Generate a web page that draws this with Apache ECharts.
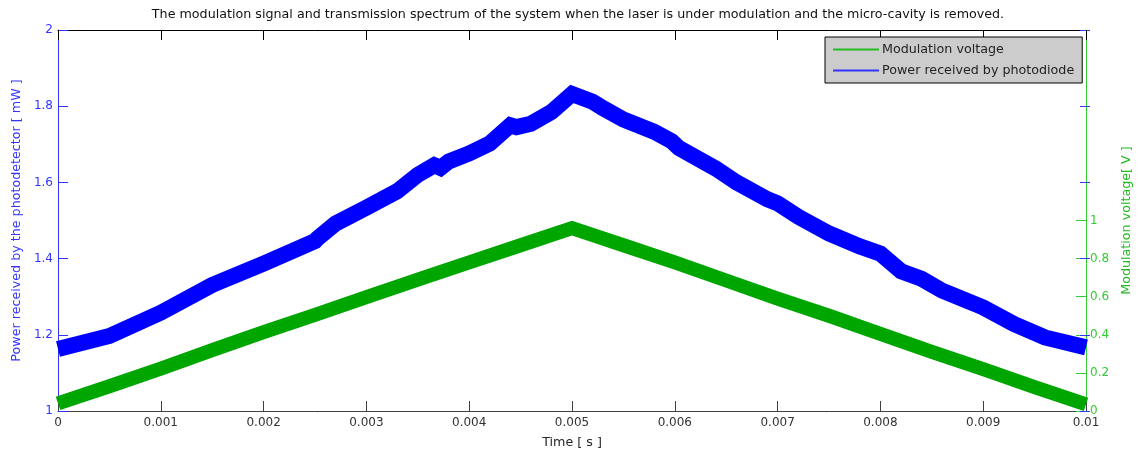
<!DOCTYPE html>
<html>
<head>
<meta charset="utf-8">
<script src="https://cdn.jsdelivr.net/npm/echarts@6/dist/echarts.min.js"></script>
<style>html,body{margin:0;padding:0;background:#fff;}#c{width:1141px;height:456px;}</style>
</head>
<body>
<div id="c"></div>
<script>
var titleText = 'The modulation signal and transmission spectrum of the system when the laser is under modulation and the micro-cavity is removed.';
var xTickLabels = ['0','0.001','0.002','0.003','0.004','0.005','0.006','0.007','0.008','0.009','0.01'];
var leftTickLabels = ['1','1.2','1.4','1.6','1.8','2'];
var rightTickValues = [0, 0.2, 0.4, 0.6, 0.8, 1];
var rightTickLabels = ['0','0.2','0.4','0.6','0.8','1'];

var blueTime = [0, 0.0005, 0.001, 0.0015, 0.002, 0.0025, 0.00252, 0.0027, 0.003, 0.0033, 0.0035, 0.00366, 0.00372, 0.0038, 0.004, 0.0042, 0.0044, 0.00446, 0.0046, 0.0048, 0.005, 0.0052, 0.0053, 0.0055, 0.0058, 0.00597, 0.00604, 0.0064, 0.0066, 0.0069, 0.007, 0.0072, 0.0075, 0.0078, 0.0080, 0.0082, 0.0084, 0.0086, 0.009, 0.0093, 0.0096, 0.01];
var blueValues = [1.163, 1.197, 1.258, 1.331, 1.387, 1.446, 1.452, 1.492, 1.534, 1.577, 1.620, 1.645, 1.638, 1.655, 1.676, 1.702, 1.750, 1.745, 1.754, 1.785, 1.832, 1.812, 1.795, 1.765, 1.733, 1.708, 1.690, 1.636, 1.600, 1.556, 1.545, 1.510, 1.466, 1.432, 1.413, 1.367, 1.347, 1.316, 1.272, 1.228, 1.193, 1.167];

var greenTime = [0, 0.0005, 0.001, 0.0015, 0.002, 0.0025, 0.003, 0.0035, 0.004, 0.0045, 0.005, 0.0055, 0.006, 0.0065, 0.007, 0.0075, 0.008, 0.0085, 0.009, 0.0095, 0.01];
var greenValues = [0.04, 0.13, 0.223, 0.32, 0.414, 0.505, 0.598, 0.69, 0.78, 0.87, 0.96, 0.87, 0.78, 0.685, 0.59, 0.50, 0.405, 0.31, 0.22, 0.125, 0.035];

var blueData = blueTime.map(function (t, i) { return [t, blueValues[i]]; });
var greenData = greenTime.map(function (t, i) { return [t, greenValues[i]]; });

var FONT = 'DejaVu Sans';
var FS = 12;
var FT = 12.7;
var chart = echarts.init(document.getElementById('c'), null, {renderer: 'canvas'});
chart.setOption({
  animation: false,
  backgroundColor: '#ffffff',
  textStyle: {fontFamily: FONT},
  title: {
    text: titleText,
    left: 573, top: 3, textAlign: 'center',
    textStyle: {fontFamily: FONT, fontSize: FT, fontWeight: 'normal', color: '#111'}
  },
  legend: {
    left: 825, top: 37,
    orient: 'vertical',
    data: [
      {name: 'Modulation voltage', itemStyle: {color: '#22bb22'}},
      {name: 'Power received by photodiode', itemStyle: {color: '#3333ff'}}
    ],
    backgroundColor: '#cccccc',
    borderColor: '#000',
    borderWidth: 1,
    borderRadius: 0,
    padding: [6, 8, 6, 8],
    itemGap: 8,
    itemWidth: 46,
    itemHeight: 2,
    icon: 'rect',
    textStyle: {fontFamily: FONT, fontSize: FT, color: '#222', padding: [0, 0, 0, -2]}
  },
  grid: [
    {left: 58, right: 51, top: 30, bottom: 45, containLabel: false},
    {left: 58, right: 51, top: 30, bottom: 45, containLabel: false}
  ],
  xAxis: [{
    gridIndex: 0, type: 'value', min: 0, max: 0.01, interval: 0.001, position: 'bottom',
    name: 'Time [ s ]', nameLocation: 'middle', nameGap: 25,
    nameTextStyle: {fontFamily: FONT, fontSize: FT, color: '#262626'},
    axisLine: {onZero: false, lineStyle: {color: '#404040', width: 1}},
    axisTick: {inside: true, length: 10, lineStyle: {color: '#404040'}},
    axisLabel: {margin: 6, fontFamily: FONT, fontSize: FS, color: '#333',
      formatter: function (v, i) { return xTickLabels[i]; }},
    splitLine: {show: false}
  }, {
    gridIndex: 0, type: 'value', min: 0, max: 0.01, interval: 0.001, position: 'top',
    axisLine: {onZero: false, lineStyle: {color: '#000', width: 1}},
    axisTick: {inside: true, length: 10, lineStyle: {color: '#000'}},
    axisLabel: {show: false},
    splitLine: {show: false}
  }, {
    gridIndex: 1, type: 'value', min: 0, max: 0.01, show: false
  }],
  yAxis: [{
    gridIndex: 0, type: 'value', min: 1, max: 2, interval: 0.2, position: 'left',
    name: 'Power received by the photodetector [ mW ]', nameLocation: 'middle', nameGap: 35,
    nameTextStyle: {fontFamily: FONT, fontSize: FT, color: '#3333ff'},
    axisLine: {show: true, onZero: false, lineStyle: {color: '#3333ff', width: 1}},
    axisTick: {show: true, inside: true, length: 10, lineStyle: {color: '#3333ff'}},
    axisLabel: {margin: 5, fontFamily: FONT, fontSize: FS, color: '#3333ff',
      formatter: function (v, i) { return leftTickLabels[i]; }},
    splitLine: {show: false}
  }, {
    gridIndex: 0, type: 'value', min: 0, max: 2, interval: 0.2, position: 'right',
    name: 'Modulation voltage[ V ]', nameLocation: 'middle', nameGap: 31,
    nameTextStyle: {fontFamily: FONT, fontSize: FT, color: '#22bb22'},
    axisLine: {show: true, onZero: false, lineStyle: {color: '#33cc33', width: 1}},
    axisTick: {show: true, inside: true, length: 10, customValues: rightTickValues, lineStyle: {color: '#33cc33'}},
    axisLabel: {margin: 4, fontFamily: FONT, fontSize: FS, color: '#33cc33', customValues: rightTickValues,
      formatter: function (v) {
        var k = rightTickValues.indexOf(Math.round(v * 10) / 10);
        return k >= 0 ? rightTickLabels[k] : '';
      }},
    splitLine: {show: false}
  }, {
    gridIndex: 1, type: 'value', min: 1, max: 2, interval: 0.2, position: 'right',
    axisLine: {show: false, onZero: false},
    axisTick: {show: true, inside: true, length: 10, lineStyle: {color: '#3333ff'}},
    axisLabel: {show: false},
    splitLine: {show: false}
  }],
  series: [{
    name: 'Modulation voltage', type: 'line', xAxisIndex: 0, yAxisIndex: 1,
    data: greenData, showSymbol: false, symbol: 'none', color: '#00a600',
    lineStyle: {width: 14, color: '#00a600', join: 'miter', cap: 'butt'},
    z: 2
  }, {
    name: 'Power received by photodiode', type: 'line', xAxisIndex: 0, yAxisIndex: 0,
    data: blueData, showSymbol: false, symbol: 'none', color: '#0000ff',
    lineStyle: {width: 16, color: '#0000ff', join: 'miter', cap: 'butt'},
    z: 3
  }]
});
</script>
</body>
</html>
